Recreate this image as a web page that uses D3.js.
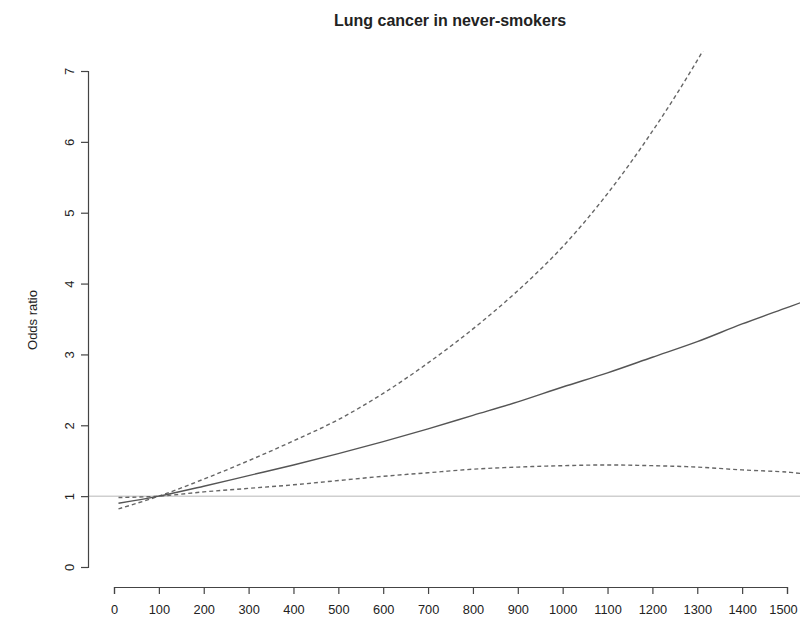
<!DOCTYPE html>
<html>
<head>
<meta charset="utf-8">
<script src="https://cdn.jsdelivr.net/npm/d3@7"></script>
<style>
  body { margin: 0; background: #fff; }
  svg { display: block; font-family: "Liberation Sans", Arial, sans-serif; }
</style>
</head>
<body>
<div id="chart"></div>
<script>
// dose values (x) and the fitted odds ratio with its confidence band
const dose  = [10, 100, 200, 300, 400, 500, 600, 700, 800, 900, 1000, 1100, 1200, 1300, 1400, 1500, 1530];
const oddsRatio = [0.90, 1.00, 1.14, 1.29, 1.44, 1.60, 1.77, 1.95, 2.14, 2.33, 2.54, 2.74, 2.96, 3.18, 3.43, 3.66, 3.73];
const upperCI   = [0.82, 1.00, 1.24, 1.50, 1.78, 2.08, 2.45, 2.88, 3.36, 3.90, 4.52, 5.27, 6.15, 7.15, 8.30, 9.60, 10.0];
const lowerCI   = [0.98, 1.00, 1.06, 1.11, 1.16, 1.22, 1.28, 1.33, 1.38, 1.41, 1.43, 1.44, 1.43, 1.41, 1.37, 1.34, 1.32];
const xTicks = [0, 100, 200, 300, 400, 500, 600, 700, 800, 900, 1000, 1100, 1200, 1300, 1400, 1500];
const yTicks = [0, 1, 2, 3, 4, 5, 6, 7];

const width = 800, height = 617;

const x = d3.scaleLinear().domain([0, 1500]).range([114, 787]);
const y = d3.scaleLinear().domain([0, 7]).range([567, 71]);

const svg = d3.select("#chart").append("svg")
    .attr("width", width)
    .attr("height", height);

// plot region (R adds 4% on each side of the limits)
svg.append("clipPath").attr("id", "plotclip")
  .append("rect")
    .attr("x", 88).attr("y", y(7.28))
    .attr("width", width - 88).attr("height", y(-0.28) - y(7.28));

svg.append("text")
    .attr("x", 450).attr("y", 26)
    .attr("text-anchor", "middle")
    .attr("font-size", 16).attr("font-weight", "bold")
    .attr("fill", "#222")
    .text("Lung cancer in never-smokers");

// reference line at OR = 1
svg.append("line")
    .attr("x1", 88).attr("x2", width)
    .attr("y1", y(1)).attr("y2", y(1))
    .attr("stroke", "#cfcfcf").attr("stroke-width", 1.5);

const line = series => d3.line()
    .x((d, i) => x(dose[i]))
    .y(d => y(d))
    .curve(d3.curveCatmullRom)(series);

const g = svg.append("g").attr("clip-path", "url(#plotclip)").attr("fill", "none");

g.append("path").attr("d", line(upperCI))
    .attr("stroke", "#666").attr("stroke-width", 1.4).attr("stroke-dasharray", "4,3");
g.append("path").attr("d", line(lowerCI))
    .attr("stroke", "#666").attr("stroke-width", 1.4).attr("stroke-dasharray", "4,3");
g.append("path").attr("d", line(oddsRatio))
    .attr("stroke", "#555").attr("stroke-width", 1.4);

// axes
const xAxis = svg.append("g")
    .attr("transform", "translate(0,587)")
    .call(d3.axisBottom(x).tickValues(xTicks).tickSize(7).tickPadding(11).tickFormat(d3.format("d")));
xAxis.select(".domain").attr("stroke", "#444").attr("stroke-width", 1.2);
xAxis.selectAll(".tick line").attr("stroke", "#444").attr("stroke-width", 1.2);
xAxis.selectAll(".tick text").attr("font-size", 12.8).attr("fill", "#222")
    .attr("font-family", "Liberation Sans, Arial, sans-serif")
    .attr("dx", d => d === 1500 ? -4 : 0);

const yAxis = svg.append("g")
    .attr("transform", "translate(88,0)")
    .call(d3.axisLeft(y).tickValues(yTicks).tickSize(7).tickFormat(d3.format("d")));
yAxis.select(".domain").attr("stroke", "#444").attr("stroke-width", 1.2);
yAxis.selectAll(".tick line").attr("stroke", "#444").attr("stroke-width", 1.2);
yAxis.selectAll(".tick text")
    .attr("font-size", 13).attr("fill", "#222")
    .attr("font-family", "Liberation Sans, Arial, sans-serif")
    .attr("x", null)
    .attr("text-anchor", "middle")
    .attr("transform", "translate(-19,0) rotate(-90)")
    .attr("y", 0).attr("dy", "0.35em");

svg.append("text")
    .attr("transform", "translate(37,320) rotate(-90)")
    .attr("text-anchor", "middle")
    .attr("font-size", 13).attr("fill", "#222")
    .text("Odds ratio");
</script>
</body>
</html>
